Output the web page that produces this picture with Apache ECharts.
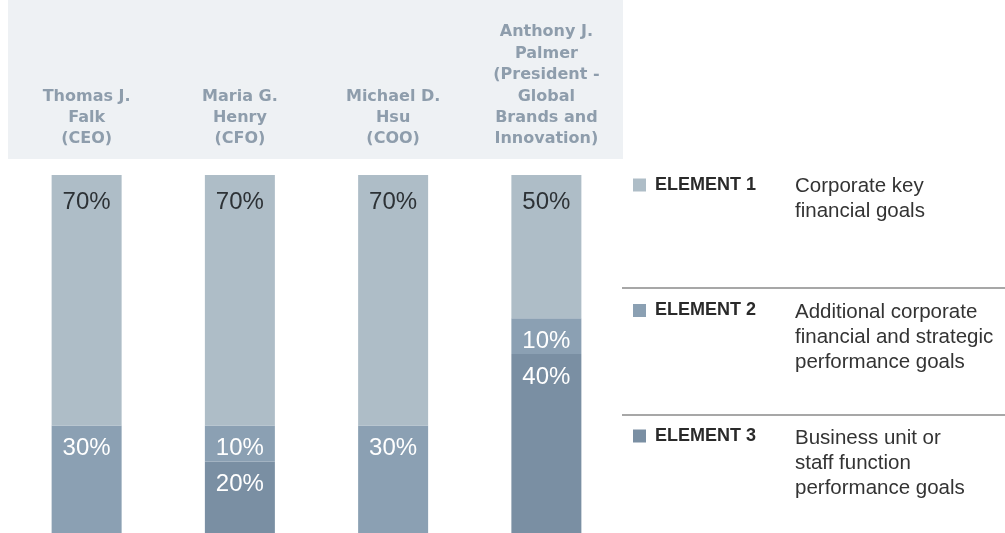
<!DOCTYPE html>
<html>
<head>
<meta charset="utf-8">
<script src="https://cdn.jsdelivr.net/npm/echarts@6/dist/echarts.min.js"></script>
<style>
  html, body { margin: 0; padding: 0; background: #fff; }
  #chart { width: 1005px; height: 533px; }
</style>
</head>
<body>
<div id="chart"></div>
<script>
const categories = [
  'Thomas J.\nFalk\n(CEO)',
  'Maria G.\nHenry\n(CFO)',
  'Michael D.\nHsu\n(COO)',
  'Anthony J.\nPalmer\n(President -\nGlobal\nBrands and\nInnovation)',
];
const legendNames = ['ELEMENT 1', 'ELEMENT 2', 'ELEMENT 3'];
const descriptions = [
  'Corporate key\nfinancial goals',
  'Additional corporate\nfinancial and strategic\nperformance goals',
  'Business unit or\nstaff function\nperformance goals',
];
// segment heights as drawn in the picture (last bar is drawn 40 / 10 / 50)
const element1 = [70, 70, 70, 40];
const element2 = [30, 10, 30, 10];
const element3 = [0, 20, 0, 50];
// printed labels
const element1Labels = ['70%', '70%', '70%', '50%'];
const element2Labels = ['30%', '10%', '30%', '10%'];
const element3Labels = ['', '20%', '', '40%'];

const colors = ['#aebdc7', '#8ba0b3', '#7a8fa3'];
const labelFont = 'Liberation Sans, Arial, sans-serif';

function barSeries(name, data, labels, color, labelColor, dist) {
  return {
    name: name,
    type: 'bar',
    stack: 'total',
    barWidth: 70,
    data: data,
    itemStyle: { color: color },
    label: {
      show: true,
      position: 'insideTop',
      distance: dist,
      fontFamily: labelFont,
      fontSize: 24,
      lineHeight: 24,
      color: labelColor,
      formatter: p => labels[p.dataIndex],
    },
  };
}

const chart = echarts.init(document.getElementById('chart'));
const option = {
  animation: false,
  grid: { left: 10, top: 175, width: 613, height: 360 },
  xAxis: {
    type: 'category',
    position: 'top',
    data: categories,
    axisLine: { show: false },
    axisTick: { show: false },
    axisLabel: {
      interval: 0,
      margin: 25,
      color: '#8e9dac',
      fontFamily: 'DejaVu Sans, sans-serif',
      fontWeight: 'bold',
      fontSize: 16,
      lineHeight: 21.4,
    },
  },
  yAxis: {
    type: 'value',
    min: 0,
    max: 100,
    show: false,
  },
  legend: {
    orient: 'vertical',
    left: 633,
    top: 176,
    padding: 0,
    itemWidth: 13,
    itemHeight: 13,
    itemGap: 107.5,
    icon: 'rect',
    data: legendNames,
    selectedMode: false,
    textStyle: {
      fontFamily: labelFont,
      fontWeight: 'bold',
      fontSize: 18,
      color: '#2a2a2a',
      padding: [0, 0, 0, 4],
    },
  },
  graphic: [
    {
      type: 'rect',
      z: -10,
      shape: { x: 8, y: 0, width: 615, height: 159 },
      style: { fill: '#eef1f4' },
    },
    {
      type: 'line',
      shape: { x1: 622, y1: 288, x2: 1005, y2: 288 },
      style: { stroke: '#8a8a8a', lineWidth: 1.5 },
    },
    {
      type: 'line',
      shape: { x1: 622, y1: 415, x2: 1005, y2: 415 },
      style: { stroke: '#8a8a8a', lineWidth: 1.5 },
    },
  ].concat(descriptions.map((text, i) => ({
    type: 'text',
    left: 795,
    top: [174, 300, 425.5][i],
    style: {
      text: text,
      font: '20.5px Liberation Sans, Arial, sans-serif',
      lineHeight: 25,
      fill: '#333333',
    },
  }))),
  series: [
    barSeries('ELEMENT 3', element3, element3Labels, colors[2], '#ffffff', 11),
    barSeries('ELEMENT 2', element2, element2Labels, colors[1], '#ffffff', 11),
    barSeries('ELEMENT 1', element1, element1Labels, colors[0], '#2d3236', 15),
  ],
};
chart.setOption(option);
</script>
</body>
</html>
